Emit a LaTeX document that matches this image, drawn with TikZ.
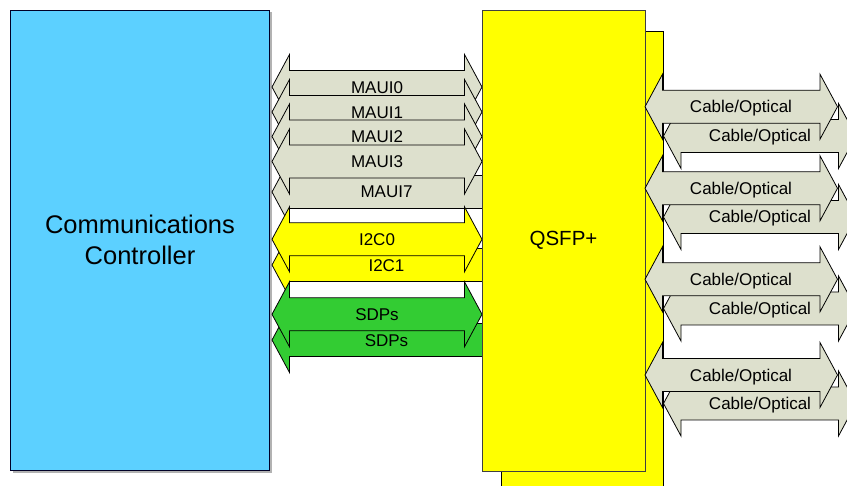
\documentclass[tikz,border=0pt]{standalone}
\usepackage{fontspec}
\setmainfont{Liberation Sans}
\definecolor{ccblue}{RGB}{92,208,255}
\definecolor{maugray}{RGB}{221,224,205}
\definecolor{qyellow}{RGB}{255,255,0}
\definecolor{sdpgreen}{RGB}{51,204,51}
\newcommand{\dblarr}[4]{%
  \filldraw[arrowshape, fill=#4] (#1,#3) -- ({#1+17.5},{#3-32.5}) -- ({#1+17.5},{#3-16.5})
   -- ({#2-17.5},{#3-16.5}) -- ({#2-17.5},{#3-32.5}) -- (#2,#3) -- ({#2-17.5},{#3+32.5})
   -- ({#2-17.5},{#3+16.5}) -- ({#1+17.5},{#3+16.5}) -- ({#1+17.5},{#3+32.5}) -- cycle;}
\tikzset{
  arrowshape/.style={draw=black, line width=0.8pt, line join=miter},
  lbl/.style={font=\fontsize{17}{19}\selectfont, inner sep=0pt, text height=12.2pt, text depth=0pt},
  qbox/.style={fill=qyellow, draw=black!75, line width=0.9pt},
}
\begin{document}
\begin{tikzpicture}[x=1pt,y=-1pt]
\clip (0,0) rectangle (847,486);
\fill[white] (0,0) rectangle (847,486);
% Communications controller
\fill[black!30] (12.5,12.5) rectangle (271.5,473);
\draw[fill=ccblue, draw=black!85!blue, line width=1pt] (10.5,10.5) rectangle (269.5,471);
\node[font=\fontsize{25.5}{31}\selectfont, align=center] (cc) at (140,239.5) {Communications\\Controller};
% left-side arrows
\dblarr{272}{501}{192}{maugray}
\dblarr{272}{482}{87}{maugray}
\dblarr{272}{482}{112}{maugray}
\dblarr{272}{482}{136.5}{maugray}
\dblarr{272}{482}{161.5}{maugray}
\dblarr{272}{501}{265}{qyellow}
\dblarr{272}{482}{239.3}{qyellow}
\dblarr{272}{501}{340}{sdpgreen}
\dblarr{272}{482}{314.3}{sdpgreen}
\node[lbl] (maui0) at (377,87.5) {MAUI0};
\node[lbl] (maui1) at (377,112.5) {MAUI1};
\node[lbl] (maui2) at (377,136.7) {MAUI2};
\node[lbl] (maui3) at (377,161.7) {MAUI3};
\node[lbl] (maui7) at (386.5,191.7) {MAUI7};
\node[lbl] (i2c0) at (377,239.3) {I2C0};
\node[lbl] (i2c1) at (386.5,265) {I2C1};
\node[lbl] (sdp0) at (377,314) {SDPs};
\node[lbl] (sdp1) at (386.5,340) {SDPs};
% QSFP+
\draw[qbox, draw=black] (501,31) rectangle (663,500);
\draw[qbox] (482,10.7) rectangle (645,471);
\node[font=\fontsize{20.5}{24}\selectfont] (qsfp) at (563.5,240) {QSFP+};
% right-side arrows
\dblarr{663.5}{856}{136}{maugray}
\dblarr{645}{837.5}{106.7}{maugray}
\dblarr{663.5}{856}{217}{maugray}
\dblarr{645}{837.5}{188.3}{maugray}
\dblarr{663.5}{856}{308.5}{maugray}
\dblarr{645}{837.5}{279.3}{maugray}
\dblarr{663.5}{856}{403.5}{maugray}
\dblarr{645}{837.5}{375}{maugray}
\node[lbl] (co1a) at (741,106.7) {Cable/Optical};
\node[lbl] (co1b) at (760,135.5) {Cable/Optical};
\node[lbl] (co2a) at (741,188.3) {Cable/Optical};
\node[lbl] (co2b) at (760,216.8) {Cable/Optical};
\node[lbl] (co3a) at (741,279.3) {Cable/Optical};
\node[lbl] (co3b) at (760,308.3) {Cable/Optical};
\node[lbl] (co4a) at (741,375) {Cable/Optical};
\node[lbl] (co4b) at (760,403.5) {Cable/Optical};
\end{tikzpicture}
\end{document}
